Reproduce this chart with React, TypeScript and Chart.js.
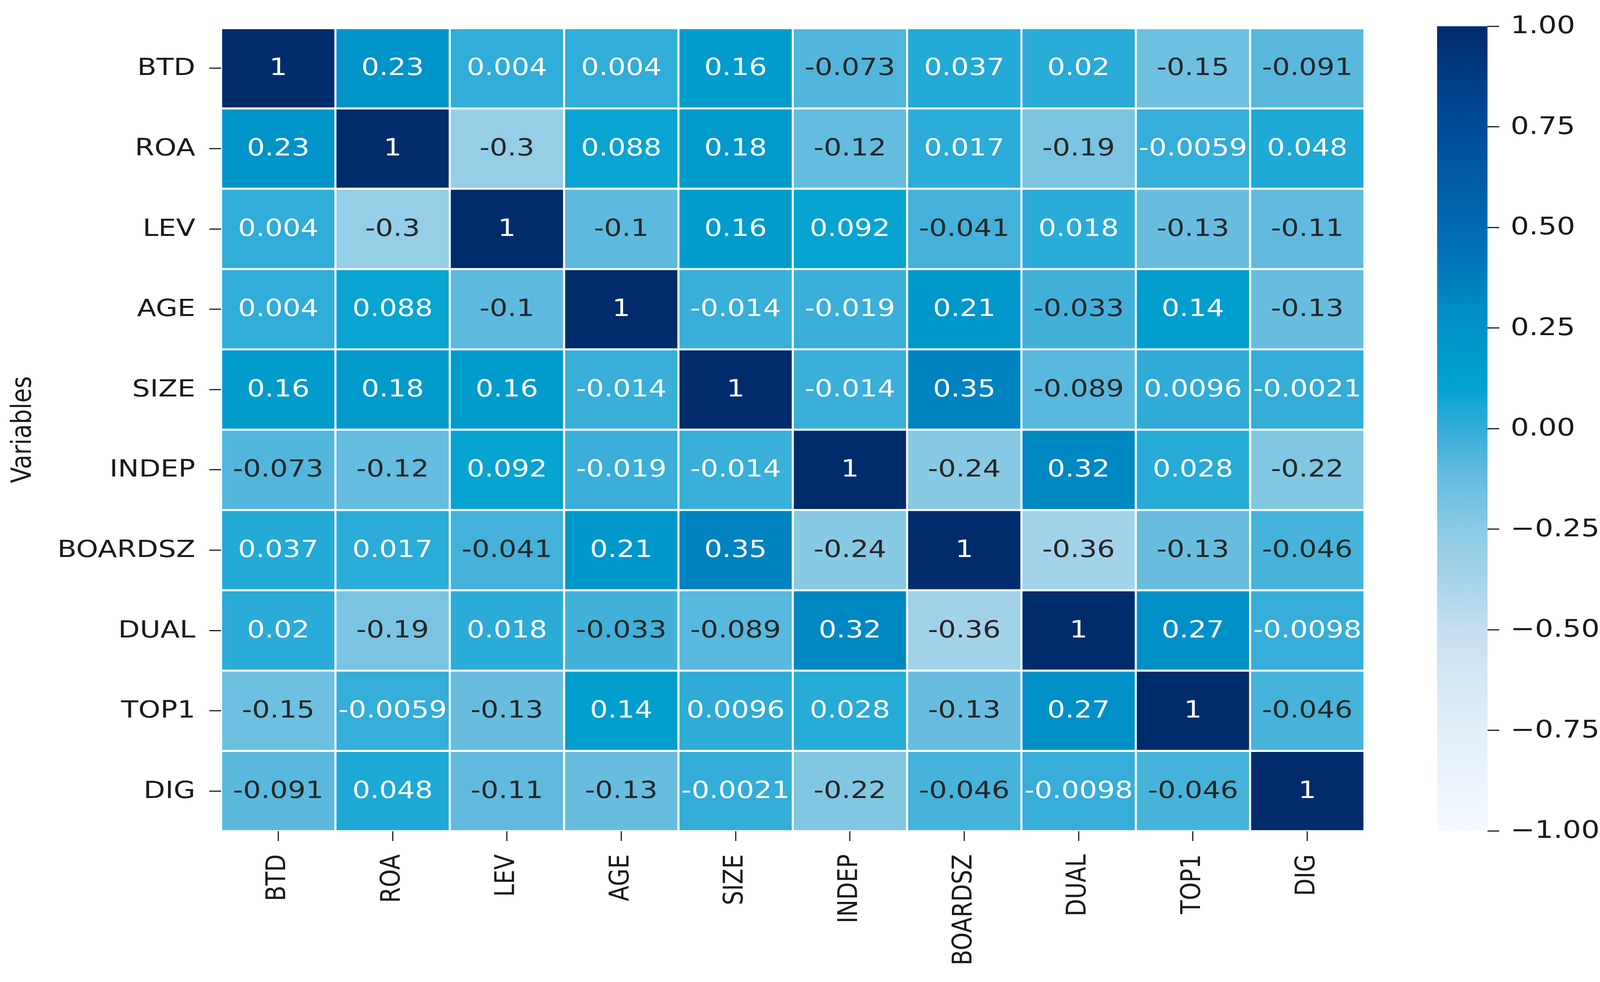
import React, { useEffect, useRef } from "react";
import { Chart, registerables } from "chart.js";

Chart.register(...registerables);

// ---------------- data ----------------
const variables = ["BTD", "ROA", "LEV", "AGE", "SIZE", "INDEP", "BOARDSZ", "DUAL", "TOP1", "DIG"];

const btdRow = [1, 0.23, 0.004, 0.004, 0.16, -0.073, 0.037, 0.02, -0.15, -0.091];
const roaRow = [0.23, 1, -0.3, 0.088, 0.18, -0.12, 0.017, -0.19, -0.0059, 0.048];
const levRow = [0.004, -0.3, 1, -0.1, 0.16, 0.092, -0.041, 0.018, -0.13, -0.11];
const ageRow = [0.004, 0.088, -0.1, 1, -0.014, -0.019, 0.21, -0.033, 0.14, -0.13];
const sizeRow = [0.16, 0.18, 0.16, -0.014, 1, -0.014, 0.35, -0.089, 0.0096, -0.0021];
const indepRow = [-0.073, -0.12, 0.092, -0.019, -0.014, 1, -0.24, 0.32, 0.028, -0.22];
const boardszRow = [0.037, 0.017, -0.041, 0.21, 0.35, -0.24, 1, -0.36, -0.13, -0.046];
const dualRow = [0.02, -0.19, 0.018, -0.033, -0.089, 0.32, -0.36, 1, 0.27, -0.0098];
const top1Row = [-0.15, -0.0059, -0.13, 0.14, 0.0096, 0.028, -0.13, 0.27, 1, -0.046];
const digRow = [-0.091, 0.048, -0.11, -0.13, -0.0021, -0.22, -0.046, -0.0098, -0.046, 1];

const matrix = [btdRow, roaRow, levRow, ageRow, sizeRow, indepRow, boardszRow, dualRow, top1Row, digRow];

const colorbarRange = [-1, 1];
const colorbarStep = 0.25;
const yAxisTitle = "Variables";

// ---------------- colour map (cyan-shifted "Blues") ----------------
const cmapStops = [-1, -0.75, -0.5, -0.36, -0.24, -0.15, -0.1, -0.05, 0, 0.05, 0.1, 0.2, 0.3, 0.4, 0.5, 0.75, 1];
const cmapColors = [
  "#f5faff", "#e1eef9", "#c6dff1", "#a2d2e9", "#88c9e3", "#6ec0e0", "#5eb9de", "#48b3da",
  "#33add9", "#1ea9d6", "#03a2d0", "#0098ca", "#008cc5", "#0079bb", "#006ab2", "#004c9a", "#002c6c",
];

function hexToRgb(h: string) {
  const n = parseInt(h.slice(1), 16);
  return [(n >> 16) & 255, (n >> 8) & 255, n & 255];
}
function colorFor(v: number) {
  if (v <= cmapStops[0]) return cmapColors[0];
  for (let i = 1; i < cmapStops.length; i++) {
    if (v <= cmapStops[i]) {
      const t = (v - cmapStops[i - 1]) / (cmapStops[i] - cmapStops[i - 1]);
      const a = hexToRgb(cmapColors[i - 1]);
      const b = hexToRgb(cmapColors[i]);
      const c = a.map((x, k) => Math.round(x + (b[k] - x) * t));
      return `rgb(${c[0]},${c[1]},${c[2]})`;
    }
  }
  return cmapColors[cmapColors.length - 1];
}
function fmt(v: number) {
  return parseFloat(v.toPrecision(2)).toString();
}

const FONT = "'DejaVu Sans', 'Liberation Sans', sans-serif";
const TEXT = "#1a1a1a";
const STRETCH = 1.2; // the reference text is horizontally widened
const CLEAR = "rgba(0,0,0,0)";

const W = 4128;
const H = 2514;
const HEAT_W = 3560;

function drawH(ctx: CanvasRenderingContext2D, text: string, x: number, y: number, align: CanvasTextAlign) {
  ctx.save();
  ctx.translate(x, y);
  ctx.scale(STRETCH, 1);
  ctx.textAlign = align;
  ctx.fillText(text, 0, 0);
  ctx.restore();
}
function drawV(ctx: CanvasRenderingContext2D, text: string, x: number, y: number, align: CanvasTextAlign) {
  ctx.save();
  ctx.translate(x, y);
  ctx.rotate(-Math.PI / 2);
  ctx.scale(1, STRETCH);
  ctx.textAlign = align;
  ctx.fillText(text, 0, 0);
  ctx.restore();
}

export default function App() {
  const heatRef = useRef<HTMLCanvasElement | null>(null);
  const barRef = useRef<HTMLCanvasElement | null>(null);

  useEffect(() => {
    if (!heatRef.current || !barRef.current) return;

    const heatText = {
      id: "heatText",
      afterDatasetsDraw(chart: any) {
        const ctx = chart.ctx;
        ctx.save();
        ctx.font = `60px ${FONT}`;
        ctx.textBaseline = "middle";
        chart.data.datasets.forEach((_ds: any, r: number) => {
          const meta = chart.getDatasetMeta(r);
          meta.data.forEach((el: any, c: number) => {
            const v = matrix[r][c];
            const p = el.getProps(["x", "y", "base"], true);
            ctx.fillStyle = v < -0.025 ? "#262626" : "#ffffff";
            drawH(ctx, fmt(v), p.x, (p.y + p.base) / 2 + 2, "center");
          });
        });
        ctx.restore();
      },
      afterDraw(chart: any) {
        const ctx = chart.ctx;
        const xs = chart.scales.x;
        const ys = chart.scales.y;
        const area = chart.chartArea;
        ctx.save();
        ctx.fillStyle = TEXT;
        ctx.textBaseline = "middle";
        ctx.font = `60px ${FONT}`;
        ys.ticks.forEach((t: any) => {
          drawH(ctx, variables[Math.floor(t.value)], area.left - 30 - 36, ys.getPixelForValue(t.value) + 2, "right");
        });
        ctx.font = `58px ${FONT}`;
        xs.ticks.forEach((_t: any, i: number) => {
          drawV(ctx, variables[i], xs.getPixelForTick(i), area.bottom + 25 + 34, "right");
        });
        ctx.font = `60px ${FONT}`;
        drawV(ctx, yAxisTitle, 60, (area.top + area.bottom) / 2, "center");
        ctx.restore();
      },
    };

    const heat = new Chart(heatRef.current, {
      type: "bar",
      data: {
        labels: variables,
        datasets: matrix.map((row, r) => ({
          label: variables[r],
          data: row.map(() => [r, r + 1] as any),
          backgroundColor: row.map((v) => colorFor(v)),
          borderColor: "#ffffff",
          borderWidth: 3,
          borderSkipped: false,
          grouped: false,
          barPercentage: 1,
          categoryPercentage: 1,
        })),
      },
      options: {
        responsive: false,
        animation: false,
        devicePixelRatio: 1,
        layout: { padding: { top: 66, right: 67, left: 0, bottom: 0 } },
        plugins: { legend: { display: false }, tooltip: { enabled: false } },
        scales: {
          x: {
            type: "category",
            grid: { offset: false, drawOnChartArea: false, drawTicks: true, tickLength: 25, tickColor: "#222", tickWidth: 3 },
            border: { display: false },
            ticks: {
              color: CLEAR,
              font: { family: FONT, size: 58 },
              minRotation: 90,
              maxRotation: 90,
              padding: 30,
              autoSkip: false,
            },
            afterFit: (s: any) => {
              s.height = 386;
            },
          },
          y: {
            type: "linear",
            min: 0,
            max: 10,
            reverse: true,
            grid: { drawOnChartArea: false, drawTicks: true, tickLength: 30, tickColor: "#222", tickWidth: 3 },
            border: { display: false },
            afterBuildTicks: (s: any) => {
              s.ticks = variables.map((_v, i) => ({ value: i + 0.5 }));
            },
            ticks: {
              color: CLEAR,
              font: { family: FONT, size: 60 },
              padding: 36,
              autoSkip: false,
              callback: (value: any) => variables[Math.floor(Number(value))],
            },
            afterFit: (s: any) => {
              s.width = 566;
            },
          },
        },
      },
      plugins: [heatText],
    });

    const cbText = {
      id: "cbText",
      afterDraw(chart: any) {
        const ctx = chart.ctx;
        const ys = chart.scales.y;
        const area = chart.chartArea;
        ctx.save();
        ctx.fillStyle = TEXT;
        ctx.textBaseline = "middle";
        ctx.font = `62px ${FONT}`;
        ys.ticks.forEach((t: any) => {
          const n = Number(t.value);
          const label = (n < 0 ? "\u2212" : "") + Math.abs(n).toFixed(2);
          drawH(ctx, label, area.right + 30 + 29, ys.getPixelForValue(n) + 2, "left");
        });
        ctx.restore();
      },
    };

    const cb = new Chart(barRef.current, {
      type: "bar",
      data: {
        labels: ["colorbar"],
        datasets: [
          {
            data: [colorbarRange as any],
            backgroundColor: (c: any) => {
              const chart = c.chart;
              if (!chart.chartArea || !chart.scales.y) return CLEAR;
              const ys = chart.scales.y;
              const g = chart.ctx.createLinearGradient(0, ys.getPixelForValue(colorbarRange[0]), 0, ys.getPixelForValue(colorbarRange[1]));
              cmapStops.forEach((s, i) => g.addColorStop((s - colorbarRange[0]) / (colorbarRange[1] - colorbarRange[0]), cmapColors[i]));
              return g;
            },
            borderWidth: 0,
            barPercentage: 1,
            categoryPercentage: 1,
          },
        ],
      },
      options: {
        responsive: false,
        animation: false,
        devicePixelRatio: 1,
        layout: { padding: { top: 65, right: 0, left: 119, bottom: 387 } },
        plugins: { legend: { display: false }, tooltip: { enabled: false } },
        scales: {
          x: { display: false },
          y: {
            position: "right",
            min: colorbarRange[0],
            max: colorbarRange[1],
            grid: { drawOnChartArea: false, drawTicks: true, tickLength: 30, tickColor: "#222", tickWidth: 3 },
            border: { display: false },
            ticks: {
              stepSize: colorbarStep,
              color: CLEAR,
              font: { family: FONT, size: 62 },
              padding: 30,
            },
            afterFit: (s: any) => {
              s.width = 320;
            },
          },
        },
      },
      plugins: [cbText],
    });

    return () => {
      heat.destroy();
      cb.destroy();
    };
  }, []);

  return (
    <div style={{ position: "absolute", left: 0, top: 0, width: W, height: H, background: "#ffffff" }}>
      <canvas ref={heatRef} width={HEAT_W} height={H} style={{ position: "absolute", left: 0, top: 0, width: HEAT_W, height: H }} />
      <canvas ref={barRef} width={W - HEAT_W} height={H} style={{ position: "absolute", left: HEAT_W, top: 0, width: W - HEAT_W, height: H }} />
    </div>
  );
}
